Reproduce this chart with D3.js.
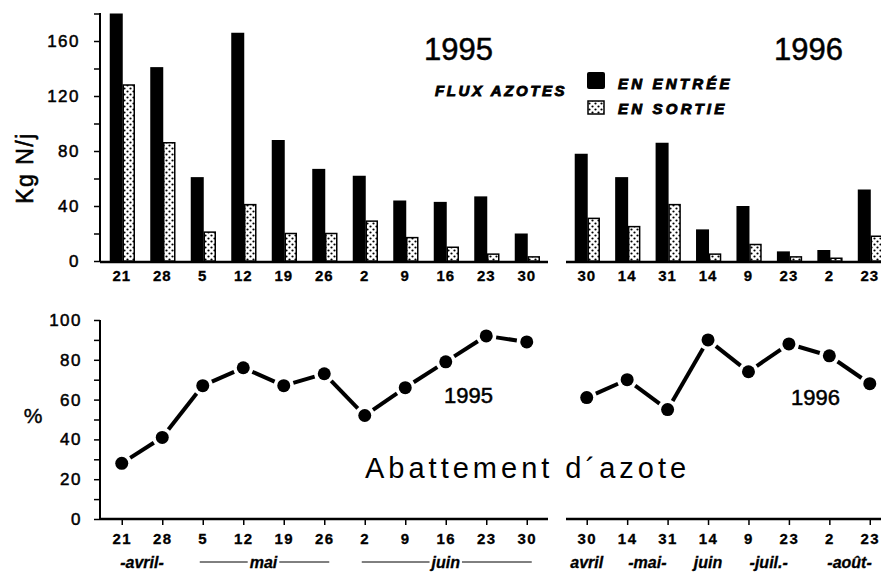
<!DOCTYPE html>
<html>
<head>
<meta charset="utf-8">
<script src="https://cdn.jsdelivr.net/npm/d3@7"></script>
<style>
  body { margin: 0; background: #fff; }
  text { font-family: "Liberation Sans", Arial, sans-serif; fill: #000; }
  .tick text { font-weight: bold; }
</style>
</head>
<body>
<div id="chart"></div>
<script>
// dates (day of month) of each sampling
var days95 = ["21", "28", "5", "12", "19", "26", "2", "9", "16", "23", "30"];
var days96 = ["30", "14", "31", "14", "9", "23", "2", "23"];

// nitrogen flux, Kg N / day
var entree95 = [180, 141, 61, 166, 88, 67, 62, 44, 43, 47, 20];
var sortie95 = [128, 86, 21, 41, 20, 20, 29, 17, 10, 5, 3];
var entree96 = [78, 61, 86, 23, 40, 7, 8, 52];
var sortie96 = [31, 25, 41, 5, 12, 3, 2, 18];

// nitrogen removal, %
var abat95 = [28, 41, 67, 76, 67, 73, 52, 66, 79, 92, 89];
var abat96 = [61, 70, 55, 90, 74, 88, 82, 68];

var fluxTicks = [0, 40, 80, 120, 160];
var pctTicks = [0, 20, 40, 60, 80, 100];

// month labels under the lower chart (from/to = index of days)
var months95 = [
  { text: "-avril-", from: 0, to: 1, lines: false },
  { text: "mai", from: 2, to: 5, lines: true },
  { text: "juin", from: 6, to: 10, lines: true }
];
var months96 = [
  { text: "avril", from: 0, to: 0, lines: false },
  { text: "-mai-", from: 1, to: 2, lines: false },
  { text: "juin", from: 3, to: 3, lines: false },
  { text: "-juil.-", from: 4, to: 5, lines: false },
  { text: "-août-", from: 6, to: 7, lines: false }
];

var svgWidth = 881, svgHeight = 574;

var svg = d3.select("#chart")
  .append("svg")
  .attr("width", svgWidth)
  .attr("height", svgHeight);

// dotted pattern for "en sortie"
var pat = svg.append("defs").append("pattern")
  .attr("id", "dots")
  .attr("patternUnits", "userSpaceOnUse")
  .attr("width", 6)
  .attr("height", 6);
pat.append("rect").attr("width", 6).attr("height", 6).attr("fill", "#fff");
pat.append("circle").attr("cx", 1.5).attr("cy", 1.5).attr("r", 1.1).attr("fill", "#000");
pat.append("circle").attr("cx", 4.5).attr("cy", 4.5).attr("r", 1.1).attr("fill", "#000");

// x scales shared by both charts
var x95 = d3.scaleBand().domain(d3.range(days95.length)).range([101.5, 547]);
var x96 = d3.scaleBand().domain(d3.range(days96.length)).range([566.5, 890]);

// heavier look for the scanned lettering
function thick(sel, w) {
  return sel.attr("stroke", "#000").attr("stroke-width", w).attr("paint-order", "stroke");
}

// ---------- top chart: flux ----------
var yFlux = d3.scaleLinear().domain([0, 180]).range([261, 13.5]);

var yAxisTop = svg.append("g")
  .attr("transform", "translate(100,0)")
  .call(d3.axisLeft(yFlux).tickValues(d3.range(0, 181, 20)).tickSize(6).tickFormat(function(d) {
    return fluxTicks.indexOf(d) >= 0 ? d : "";
  }));
yAxisTop.select(".domain").attr("stroke-width", 2).attr("d", "M0,261V13");
yAxisTop.selectAll(".tick line").attr("stroke-width", 1.5);
thick(yAxisTop.selectAll(".tick text"), 0.5)
  .style("font-size", "17px").style("font-weight", "normal")
  .attr("letter-spacing", "1.5px").attr("x", -20);

function drawBars(xs, entree, sortie, days, x0, x1) {
  svg.append("line")
    .attr("x1", x0).attr("x2", x1)
    .attr("y1", yFlux(0) + 1).attr("y2", yFlux(0) + 1)
    .attr("stroke", "#000").attr("stroke-width", 2.5);

  svg.append("g").selectAll("rect")
    .data(entree)
    .enter()
    .append("rect")
    .attr("x", function(d, i) { return xs(i) + xs.bandwidth() / 2 - 12; })
    .attr("y", function(d) { return yFlux(d); })
    .attr("width", 13)
    .attr("height", function(d) { return yFlux(0) - yFlux(d); })
    .attr("fill", "#000");

  svg.append("g").selectAll("rect")
    .data(sortie)
    .enter()
    .append("rect")
    .attr("x", function(d, i) { return xs(i) + xs.bandwidth() / 2 + 1.5; })
    .attr("y", function(d) { return yFlux(d); })
    .attr("width", 11)
    .attr("height", function(d) { return yFlux(0) - yFlux(d); })
    .attr("fill", "url(#dots)")
    .attr("stroke", "#000")
    .attr("stroke-width", 1.5);

  thick(svg.append("g").selectAll("text")
    .data(days)
    .enter()
    .append("text")
    .attr("x", function(d, i) { return xs(i) + xs.bandwidth() / 2; })
    .attr("y", 281)
    .attr("text-anchor", "middle")
    .attr("font-size", "15px")
    .attr("font-weight", "bold")
    .attr("letter-spacing", "1px")
    .text(function(d) { return d; }), 0.3);
}

drawBars(x95, entree95, sortie95, days95, 100, 548);
drawBars(x96, entree96, sortie96, days96, 566, 881);

thick(svg.append("text")
  .attr("transform", "translate(33,168) rotate(-90)")
  .attr("text-anchor", "middle")
  .attr("font-size", "23px")
  .attr("letter-spacing", "1.5px")
  .text("Kg N/j"), 0.6);

thick(svg.append("text").attr("x", 424).attr("y", 60).attr("font-size", "31px")
  .attr("font-family", "DejaVu Sans").text("1995"), 0.5);
thick(svg.append("text").attr("x", 774).attr("y", 60).attr("font-size", "31px")
  .attr("font-family", "DejaVu Sans").text("1996"), 0.5);

// legend
var legendText = [
  { text: "FLUX AZOTES", x: 435, y: 96, sp: "2.6px" },
  { text: "EN ENTRÉE", x: 618, y: 89, sp: "3.2px" },
  { text: "EN SORTIE", x: 618, y: 114, sp: "3.2px" }
];
thick(svg.append("g").selectAll("text")
  .data(legendText)
  .enter()
  .append("text")
  .attr("x", function(d) { return d.x; })
  .attr("y", function(d) { return d.y; })
  .attr("font-size", "15px")
  .attr("font-weight", "bold")
  .attr("font-style", "italic")
  .attr("letter-spacing", function(d) { return d.sp; })
  .text(function(d) { return d.text; }), 0.9);
svg.append("rect").attr("x", 587).attr("y", 72).attr("width", 18).attr("height", 17)
  .attr("rx", 2).attr("fill", "#000");
svg.append("rect").attr("x", 588).attr("y", 101).attr("width", 16).attr("height", 13)
  .attr("fill", "url(#dots)").attr("stroke", "#000").attr("stroke-width", 1.5);

// ---------- bottom chart: abattement ----------
var yPct = d3.scaleLinear().domain([0, 100]).range([519, 320]);

var yAxisBot = svg.append("g")
  .attr("transform", "translate(100,0)")
  .call(d3.axisLeft(yPct).tickValues(d3.range(0, 101, 10)).tickSize(6).tickFormat(function(d) {
    return pctTicks.indexOf(d) >= 0 ? d : "";
  }));
yAxisBot.select(".domain").attr("stroke-width", 2).attr("d", "M0,519V320");
yAxisBot.selectAll(".tick line").attr("stroke-width", 1.5);
thick(yAxisBot.selectAll(".tick text"), 0.5)
  .style("font-size", "17px").style("font-weight", "normal")
  .attr("letter-spacing", "1.5px").attr("x", -18);

thick(svg.append("text").attr("x", 33).attr("y", 423).attr("text-anchor", "middle")
  .attr("font-size", "21px").text("%"), 0.4);

function drawLine(xs, values, days, months, x0, x1) {
  var cx = function(i) { return xs(i) + xs.bandwidth() / 2; };

  var axis = svg.append("g")
    .attr("transform", "translate(0,519)")
    .call(d3.axisBottom(d3.scalePoint().domain(d3.range(days.length)).range([cx(0), cx(days.length - 1)]))
      .tickSize(6).tickFormat(function(i) { return days[i]; }));
  axis.select(".domain").attr("d", "M" + x0 + ",0H" + x1).attr("stroke-width", 2.5);
  axis.selectAll(".tick line").attr("stroke-width", 1.5);
  thick(axis.selectAll(".tick text"), 0.3)
    .style("font-size", "15px").attr("letter-spacing", "1.5px").attr("y", 14);

  // line segments stop short of the dots
  var pts = values.map(function(v, i) { return [cx(i), yPct(v)]; });
  var segs = d3.pairs(pts);
  svg.append("g").selectAll("line")
    .data(segs)
    .enter()
    .append("line")
    .each(function(s) {
      var dx = s[1][0] - s[0][0], dy = s[1][1] - s[0][1];
      var len = Math.sqrt(dx * dx + dy * dy), gap = 10;
      d3.select(this)
        .attr("x1", s[0][0] + dx * gap / len).attr("y1", s[0][1] + dy * gap / len)
        .attr("x2", s[1][0] - dx * gap / len).attr("y2", s[1][1] - dy * gap / len);
    })
    .attr("stroke", "#000")
    .attr("stroke-width", 4);

  svg.append("g").selectAll("circle")
    .data(pts)
    .enter()
    .append("circle")
    .attr("cx", function(p) { return p[0]; })
    .attr("cy", function(p) { return p[1]; })
    .attr("r", 6.5)
    .attr("fill", "#000");

  months.forEach(function(m) {
    var mid = (cx(m.from) + cx(m.to)) / 2;
    var t = thick(svg.append("text")
      .attr("x", mid).attr("y", 568)
      .attr("text-anchor", "middle")
      .attr("font-size", "16px")
      .attr("font-weight", "bold")
      .attr("font-style", "italic")
      .text(m.text), 0.3);
    if (m.lines) {
      var w = t.node().getComputedTextLength() / 2 + 2;
      svg.append("line").attr("x1", cx(m.from) - 3).attr("x2", mid - w)
        .attr("y1", 562).attr("y2", 562).attr("stroke", "#000").attr("stroke-width", 1);
      svg.append("line").attr("x1", mid + w).attr("x2", cx(m.to) + 5)
        .attr("y1", 562).attr("y2", 562).attr("stroke", "#000").attr("stroke-width", 1);
    }
  });
}

drawLine(x95, abat95, days95, months95, 100, 548);
drawLine(x96, abat96, days96, months96, 566, 881);

thick(svg.append("text").attr("x", 444).attr("y", 403).attr("font-size", "22px")
  .attr("font-family", "DejaVu Sans").text("1995"), 0.5);
thick(svg.append("text").attr("x", 791).attr("y", 405).attr("font-size", "22px")
  .attr("font-family", "DejaVu Sans").text("1996"), 0.5);

svg.append("text").attr("x", 365).attr("y", 478).attr("font-size", "29px")
  .attr("font-family", "DejaVu Sans").attr("font-weight", "200").attr("letter-spacing", "4px")
  .text("Abattement d´azote");
</script>
</body>
</html>
